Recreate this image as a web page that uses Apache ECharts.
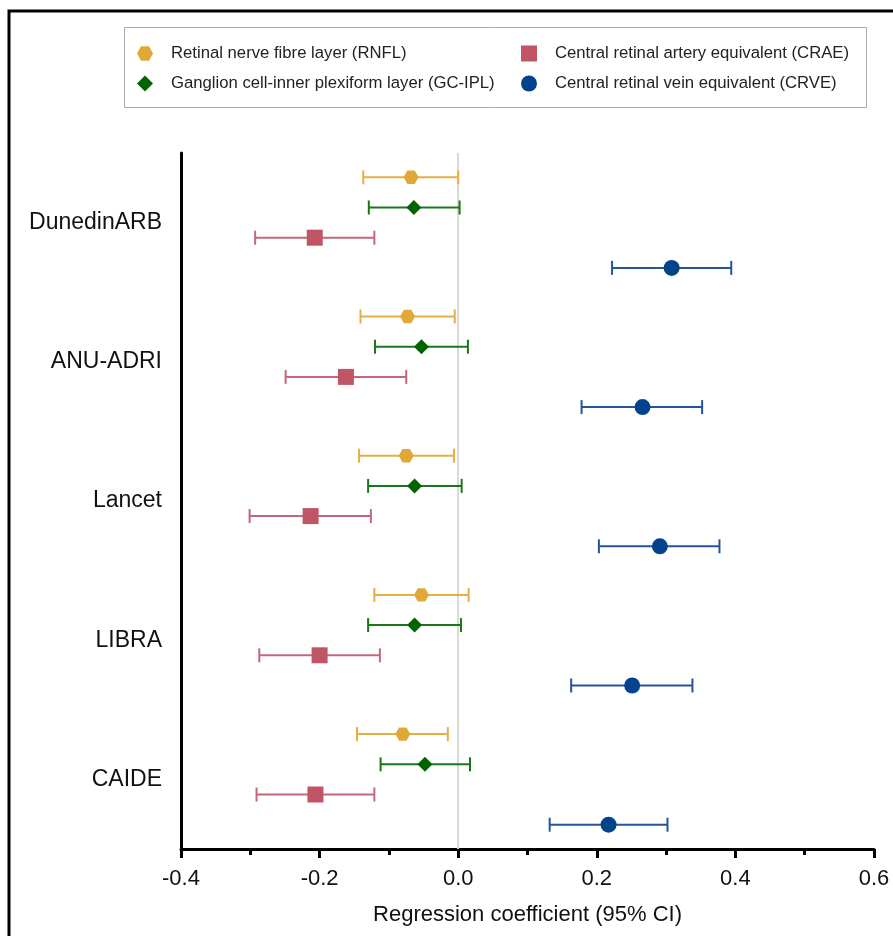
<!DOCTYPE html>
<html>
<head>
<meta charset="utf-8">
<script src="https://cdn.jsdelivr.net/npm/echarts@6/dist/echarts.min.js"></script>
<style>html,body{margin:0;padding:0;background:#fff;}#chart{width:893px;height:936px;}</style>
</head>
<body>
<div id="chart"></div>
<script>
// ---- Data ----
const studies = ['DunedinARB', 'ANU-ADRI', 'Lancet', 'LIBRA', 'CAIDE'];
const seriesNames = [
  'Retinal nerve fibre layer (RNFL)',
  'Ganglion cell-inner plexiform layer (GC-IPL)',
  'Central retinal artery equivalent (CRAE)',
  'Central retinal vein equivalent (CRVE)'
];
const rnflEst = [-0.068, -0.073, -0.075, -0.053, -0.080];
const rnflLo  = [-0.137, -0.141, -0.143, -0.121, -0.146];
const rnflHi  = [ 0.000, -0.005, -0.006,  0.015, -0.015];
const gcEst   = [-0.064, -0.053, -0.063, -0.063, -0.048];
const gcLo    = [-0.129, -0.120, -0.130, -0.130, -0.112];
const gcHi    = [ 0.002,  0.014,  0.005,  0.004,  0.017];
const craeEst = [-0.207, -0.162, -0.213, -0.200, -0.206];
const craeLo  = [-0.293, -0.249, -0.301, -0.287, -0.291];
const craeHi  = [-0.121, -0.075, -0.126, -0.113, -0.121];
const crveEst = [ 0.308,  0.266,  0.291,  0.251,  0.217];
const crveLo  = [ 0.222,  0.178,  0.203,  0.163,  0.132];
const crveHi  = [ 0.394,  0.352,  0.377,  0.338,  0.302];
const xTicks = [-0.4, -0.2, 0.0, 0.2, 0.4, 0.6];

// ---- Styles ----
const FONT = '"Liberation Sans", Arial, sans-serif';
const markerColors = ['#E0A937', '#006400', '#C05565', '#02438C'];
const lineColors   = ['#E3AF45', '#1A761A', '#C5677A', '#24559A'];
const shapes = ['hexagon', 'diamond', 'square', 'circle'];
const legendIcons = [
  'path://M2.5,0 L7.5,0 L10,4.5 L7.5,9 L2.5,9 L0,4.5 Z',
  'diamond', 'rect', 'circle'
];
const ROW_FRAC = 30.2 / 139.2;

const groups = [
  [rnflEst, rnflLo, rnflHi],
  [gcEst, gcLo, gcHi],
  [craeEst, craeLo, craeHi],
  [crveEst, crveLo, crveHi]
];

function makeRender(r) {
  return function (params, api) {
    const cat = api.value(0);
    const lo = api.value(1), est = api.value(2), hi = api.value(3);
    const yc = api.coord([0, cat])[1];
    const band = api.size([0, 1])[1];
    const y = yc + (r - 1.5) * band * ROW_FRAC;
    const xl = api.coord([lo, cat])[0];
    const xe = api.coord([est, cat])[0];
    const xh = api.coord([hi, cat])[0];
    const ls = { stroke: lineColors[r], lineWidth: 2 };
    const ch = 7;
    const children = [
      { type: 'line', shape: { x1: xl, y1: y, x2: xh, y2: y }, style: ls },
      { type: 'line', shape: { x1: xl, y1: y - ch, x2: xl, y2: y + ch }, style: ls },
      { type: 'line', shape: { x1: xh, y1: y - ch, x2: xh, y2: y + ch }, style: ls }
    ];
    const fill = { fill: markerColors[r] };
    if (shapes[r] === 'hexagon') {
      children.push({ type: 'polygon', shape: { points: [
        [xe - 7.5, y], [xe - 3.7, y - 6.7], [xe + 3.7, y - 6.7],
        [xe + 7.5, y], [xe + 3.7, y + 6.7], [xe - 3.7, y + 6.7]] }, style: fill });
    } else if (shapes[r] === 'diamond') {
      children.push({ type: 'polygon', shape: { points: [
        [xe - 7.5, y], [xe, y - 7.5], [xe + 7.5, y], [xe, y + 7.5]] }, style: fill });
    } else if (shapes[r] === 'square') {
      children.push({ type: 'rect', shape: { x: xe - 8, y: y - 8, width: 16, height: 16 }, style: fill });
    } else {
      children.push({ type: 'circle', shape: { cx: xe, cy: y, r: 8 }, style: fill });
    }
    return { type: 'group', children: children };
  };
}

const series = [{
  type: 'line', data: [], silent: true,
  markLine: {
    silent: true, symbol: ['none', 'none'], label: { show: false },
    lineStyle: { color: '#d9d9d9', width: 2, type: 'solid' },
    data: [{ xAxis: 0 }]
  }
}];
groups.forEach(function (g, r) {
  series.push({
    name: seriesNames[r],
    type: 'custom',
    renderItem: makeRender(r),
    encode: { x: [1, 2, 3], y: 0 },
    itemStyle: { color: markerColors[r] },
    data: studies.map(function (s, i) { return [s, g[1][i], g[0][i], g[2][i]]; }),
    z: 5
  });
});

const legendCommon = {
  orient: 'vertical', itemWidth: 16, itemHeight: 16, itemGap: 13, padding: 0,
  textStyle: { fontFamily: FONT, fontSize: 16.7, color: '#222', padding: [0, 0, 0, 13] },
  selectedMode: false
};

const chart = echarts.init(document.getElementById('chart'), null, { renderer: 'canvas' });
chart.setOption({
  backgroundColor: '#fff',
  animation: false,
  graphic: [
    { type: 'rect', shape: { x: 9, y: 11, width: 1000, height: 1000 },
      style: { fill: 'none', stroke: '#000', lineWidth: 3 }, silent: true },
    { type: 'rect', shape: { x: 124.5, y: 27.5, width: 742, height: 80 },
      style: { fill: 'none', stroke: '#aaaaaa', lineWidth: 1 }, silent: true }
  ],
  legend: [
    Object.assign({ left: 137, top: 45, data: [
      { name: seriesNames[0], icon: legendIcons[0] },
      { name: seriesNames[1], icon: legendIcons[1] }] }, legendCommon),
    Object.assign({ left: 521, top: 45, data: [
      { name: seriesNames[2], icon: legendIcons[2] },
      { name: seriesNames[3], icon: legendIcons[3] }] }, legendCommon)
  ],
  grid: { left: 181, right: 19, top: 153, height: 696, containLabel: false },
  xAxis: {
    type: 'value', min: xTicks[0], max: xTicks[xTicks.length - 1], interval: 0.2,
    name: 'Regression coefficient (95% CI)', nameLocation: 'middle', nameGap: 55,
    nameTextStyle: { fontFamily: FONT, fontSize: 22, color: '#111' },
    axisLine: { show: true, onZero: false, lineStyle: { color: '#000', width: 3 } },
    axisTick: { show: true, length: 9, lineStyle: { color: '#000', width: 3 } },
    minorTick: { show: true, splitNumber: 2, length: 6, lineStyle: { color: '#000', width: 3 } },
    splitLine: { show: false },
    axisLabel: { fontFamily: FONT, fontSize: 22, color: '#111', margin: 19,
      formatter: function (v) { return v.toFixed(1); } }
  },
  yAxis: {
    type: 'category', data: studies, inverse: true,
    axisLine: { show: true, onZero: false, lineStyle: { color: '#000', width: 3 } },
    axisTick: { show: false },
    splitLine: { show: false },
    axisLabel: { fontFamily: FONT, fontSize: 23, color: '#111', margin: 19 }
  },
  series: series
});
</script>
</body>
</html>
